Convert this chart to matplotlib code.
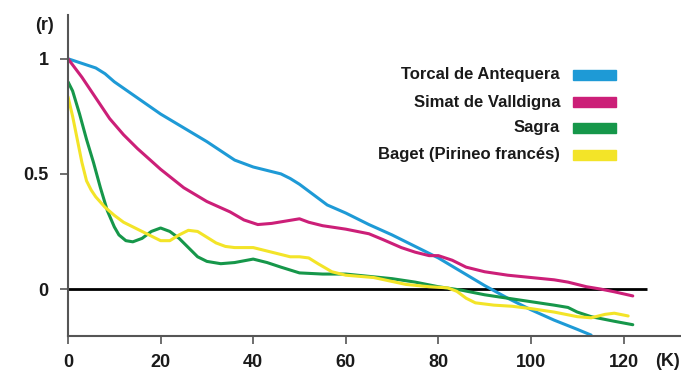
import numpy as np
import matplotlib.pyplot as plt

plt.rcParams['font.family'] = ['Liberation Sans', 'DejaVu Sans']

# --- data ---
series_names = ["Torcal de Antequera", "Simat de Valldigna", "Sagra", "Baget (Pirineo francés)"]
series_colors = ["#1e9ad6", "#cc1f78", "#16974a", "#f3e428"]

torcal_k = [0, 3, 6, 8, 10, 15, 20, 25, 30, 33, 36, 40, 43, 46, 48, 50, 53, 56, 60, 65, 70, 75, 80, 85,
            90, 95, 100, 105, 110, 113]
torcal_r = [1.0, 0.98, 0.96, 0.935, 0.90, 0.83, 0.76, 0.70, 0.64, 0.60, 0.56, 0.53, 0.515, 0.50, 0.48,
            0.455, 0.41, 0.365, 0.33, 0.28, 0.235, 0.185, 0.135, 0.075, 0.015, -0.04, -0.09, -0.135,
            -0.175, -0.20]

simat_k = [0, 3, 6, 9, 12, 15, 20, 25, 30, 35, 38, 41, 44, 47, 50, 52, 55, 60, 65, 68, 72, 75, 78, 80,
           83, 86, 90, 95, 100, 105, 108, 112, 115, 118, 122]
simat_r = [1.0, 0.92, 0.83, 0.74, 0.67, 0.61, 0.52, 0.44, 0.38, 0.335, 0.30, 0.28, 0.285, 0.295, 0.305,
           0.29, 0.275, 0.26, 0.24, 0.215, 0.18, 0.16, 0.145, 0.145, 0.125, 0.095, 0.075, 0.06, 0.05,
           0.04, 0.03, 0.01, 0.0, -0.012, -0.03]

sagra_k = [0, 1, 2.5, 4, 5.5, 7, 8.5, 10, 11, 12.5, 14, 16, 18, 20, 22, 24, 26, 28, 30, 33, 36, 40, 43,
           46, 50, 55, 60, 65, 70, 75, 80, 85, 90, 95, 100, 105, 108, 110, 113, 118, 122]
sagra_r = [0.90, 0.86, 0.76, 0.65, 0.55, 0.44, 0.34, 0.27, 0.235, 0.21, 0.205, 0.22, 0.25, 0.265,
           0.25, 0.22, 0.18, 0.14, 0.12, 0.11, 0.115, 0.13, 0.115, 0.095, 0.07, 0.065, 0.065, 0.055,
           0.045, 0.03, 0.01, -0.005, -0.025, -0.04, -0.055, -0.07, -0.08, -0.10, -0.12, -0.14, -0.155]

baget_k = [0, 1, 2, 3, 4, 5, 6, 8, 10, 12, 14, 16, 18, 20, 22, 24, 26, 28, 30, 32, 34, 36, 40, 43, 46,
           48, 50, 52, 54, 57, 60, 66, 73, 78, 82, 84, 86, 88, 92, 96, 100, 105, 110, 113, 116, 118, 121]
baget_r = [0.835, 0.75, 0.65, 0.55, 0.47, 0.43, 0.40, 0.355, 0.32, 0.29, 0.27, 0.25, 0.23, 0.21, 0.21,
           0.235, 0.255, 0.25, 0.225, 0.20, 0.185, 0.18, 0.18, 0.165, 0.15, 0.14, 0.14, 0.135, 0.11, 0.075,
           0.06, 0.05, 0.02, 0.01, 0.005, -0.01, -0.04, -0.06, -0.07, -0.075, -0.085, -0.10, -0.12,
           -0.125, -0.11, -0.105, -0.117]

x_ticks = [0, 20, 40, 60, 80, 100, 120]
y_ticks = [0, 0.5, 1]
y_tick_labels = ["0", "0.5", "1"]

# --- figure ---
fig = plt.figure(figsize=(6.81, 3.75), dpi=100)
ax = fig.add_axes([68 / 681, 39 / 375, 612 / 681, 321 / 375])

ax.hlines(0, 0, 125, color="black", lw=2, zorder=1)

all_k = [torcal_k, simat_k, sagra_k, baget_k]
all_r = [torcal_r, simat_r, sagra_r, baget_r]
for k, r, c in zip(all_k, all_r, series_colors):
    ax.plot(k, r, color=c, lw=2.2, solid_joinstyle="round", solid_capstyle="round", zorder=2)

ax.set_xlim(0, 132.2)
ax.set_ylim(-0.204, 1.19)

for s in ["top", "right"]:
    ax.spines[s].set_visible(False)
for s in ["left", "bottom"]:
    ax.spines[s].set_color("#555555")
    ax.spines[s].set_linewidth(1.5)

ax.set_xticks(x_ticks)
ax.set_yticks(y_ticks)
ax.set_yticklabels(y_tick_labels)
ax.tick_params(axis="both", direction="out", length=6, width=1.2, color="#555555",
               labelsize=13, labelcolor="#1a1a1a")
ax.tick_params(axis="x", pad=7)
ax.tick_params(axis="y", pad=8)
for lab in ax.get_xticklabels() + ax.get_yticklabels():
    lab.set_fontweight("bold")

# axis unit labels
fig.text(45 / 681, 1 - 25 / 375, "(r)", ha="center", va="center", fontsize=13,
         fontweight="bold", color="#1a1a1a")
fig.text(668 / 681, 1 - 362 / 375, "(K)", ha="center", va="center", fontsize=13,
         fontweight="bold", color="#1a1a1a")

# legend drawn by hand: text on the left, colour bar on the right
row_y = [75, 102, 128, 155]
for name, c, y in zip(series_names, series_colors, row_y):
    fig.text(560 / 681, 1 - y / 375, name, ha="right", va="center", fontsize=12,
             fontweight="bold", color="#1a1a1a")
    fig.patches.append(plt.Rectangle((573 / 681, 1 - (y + 5) / 375), 43 / 681, 10 / 375,
                                     transform=fig.transFigure, color=c, figure=fig))

fig.savefig("out.png", dpi=100)
